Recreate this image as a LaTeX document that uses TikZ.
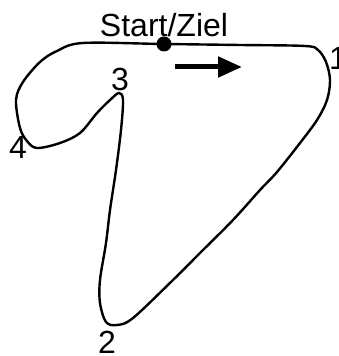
\documentclass[tikz,border=0pt]{standalone}
\usepackage{fontspec}
\setmainfont{Liberation Sans}
\usetikzlibrary{arrows.meta,positioning}

\begin{document}
\begin{tikzpicture}[
    x=0.5pt,y=-0.5pt,
    lbl/.style={anchor=base,inner sep=0pt,font=\fontsize{16}{19}\selectfont},
    track/.style={line width=1.2pt,line join=round},
    dot/.style={circle,fill=black,inner sep=0pt,minimum size=7.5pt},
    dir/.style={-{Triangle[length=12pt,width=10pt]},line width=2.5pt}
]
\useasboundingbox (0,0) rectangle (338,356);
\draw[track] plot[smooth cycle,tension=0.55] coordinates {
    (163,44) (240,45) (305,46) (318,50) (326,62) (330,80) (327,100) (317,120)
    (300,143) (277,172) (260,190) (233,220) (200,253) (173,280) (133,318)
    (117,325) (106,322) (100,303) (100,280) (106,243) (110,210) (116,170)
    (121,130) (123,100) (119,93) (110,100) (97,113) (80,133) (60,143)
    (37,148) (27,141) (20,128) (16,100) (23,82) (40,62) (57,51) (83,43)};
\node[dot] (start) at (164,44) {};
\node[lbl] (ziel) at (164,37) {Start/Ziel};
\node[lbl] (p1) at (338,70) {1};
\node[lbl] (p2) at (107,353) {2};
\node[lbl] (p3) at (120,91) {3};
\node[lbl] (p4) at (18,159) {4};
\coordinate (tail) at (175,67);
\coordinate (head) at (242,67);
\draw[dir] (tail) -- (head);
\end{tikzpicture}
\end{document}
